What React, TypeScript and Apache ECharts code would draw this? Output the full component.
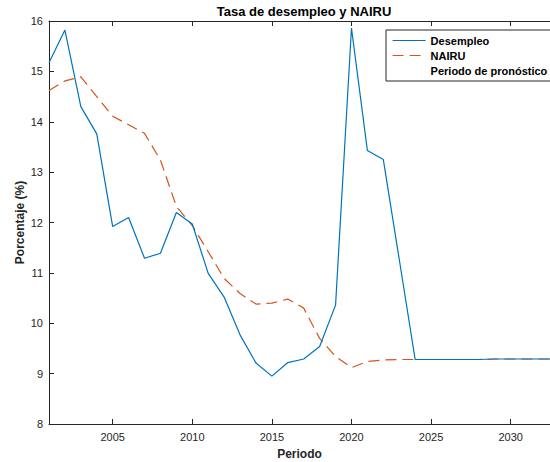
import React, { useEffect, useRef } from "react";
import * as echarts from "echarts";

const years: number[] = [
  2001, 2002, 2003, 2004, 2005, 2006, 2007, 2008, 2009, 2010, 2011, 2012, 2013, 2014, 2015, 2016, 2017,
  2018, 2019, 2020, 2021, 2022, 2023, 2024, 2025, 2026, 2027, 2028, 2029, 2030, 2031, 2032, 2033,
];
const desempleo: number[] = [
  15.17, 15.82, 14.3, 13.76, 11.92, 12.1, 11.29, 11.39, 12.2, 11.97, 10.99, 10.52, 9.77, 9.21, 8.95, 9.22, 9.29,
  9.54, 10.36, 15.86, 13.43, 13.25, 11.27, 9.28, 9.28, 9.28, 9.28, 9.28, 9.29, 9.29, 9.29, 9.29, 9.29,
];
const nairu: number[] = [
  14.62, 14.81, 14.89, 14.5, 14.11, 13.94, 13.77, 13.24, 12.32, 11.94, 11.42, 10.89, 10.59, 10.38, 10.4, 10.48, 10.3,
  9.7, 9.34, 9.12, 9.24, 9.27, 9.28, 9.28, 9.28, 9.28, 9.28, 9.28, 9.29, 9.29, 9.29, 9.29, 9.29,
];
const xTicks: number[] = [2005, 2010, 2015, 2020, 2025, 2030];
const seriesNames: string[] = ["Desempleo", "NAIRU", "Periodo de pronóstico"];

const FONT = "'Liberation Sans', Arial, Helvetica, sans-serif";
const AX = "#262626";

export default function App() {
  const ref = useRef<HTMLDivElement>(null);
  useEffect(() => {
    if (!ref.current) return;
    const chart = echarts.init(ref.current, null, { renderer: "svg" });
    const pair = (vals: number[]) => years.map((y, i) => [y, vals[i]]);
    const baseX = {
      type: "value" as const,
      min: 2001,
      max: 2032.47,
      splitLine: { show: false },
      axisLine: { show: true, onZero: false, lineStyle: { color: AX, width: 1 } },
      axisTick: { show: true, inside: true, length: 5, customValues: xTicks, lineStyle: { color: AX } },
    };
    chart.setOption({
      animation: false,
      textStyle: { fontFamily: FONT },
      title: {
        text: "Tasa de desempleo y NAIRU",
        left: 299,
        textAlign: "center",
        top: 0,
        textStyle: { fontFamily: FONT, fontSize: 13, fontWeight: "bold", color: "#000" },
      },
      legend: {
        orient: "vertical",
        left: 386,
        top: 30,
        padding: [5, 6, 5, 6],
        itemWidth: 33,
        itemHeight: 10,
        itemGap: 4,
        borderColor: "#262626",
        borderWidth: 1,
        backgroundColor: "#fff",
        itemStyle: { opacity: 0 },
        lineStyle: { width: 1.2 },
        data: seriesNames,
        textStyle: { fontFamily: FONT, fontSize: 11, fontWeight: "bold", color: "#000" },
      },
      grid: { left: 49, top: 21, right: 0, bottom: 38, containLabel: false, outerBoundsMode: "none" },
      xAxis: [
        {
          ...baseX,
          position: "bottom",
          name: "Periodo",
          nameLocation: "middle",
          nameGap: 24,
          nameMoveOverlap: false,
          nameTextStyle: { fontFamily: FONT, fontSize: 12, fontWeight: "bold", color: "#262626" },
          axisLabel: {
            customValues: xTicks,
            formatter: (v: number) => String(v),
            fontFamily: FONT,
            fontSize: 11,
            color: AX,
            margin: 7,
          },
        },
        {
          ...baseX,
          position: "top",
          axisLabel: { show: false },
        },
      ],
      yAxis: {
        type: "value",
        min: 8,
        max: 16,
        interval: 1,
        name: "Porcentaje (%)",
        nameLocation: "middle",
        nameGap: 23,
        nameMoveOverlap: false,
        nameTextStyle: { fontFamily: FONT, fontSize: 12, fontWeight: "bold", color: "#262626" },
        splitLine: { show: false },
        axisLine: { show: true, lineStyle: { color: AX, width: 1 } },
        axisTick: { show: true, inside: true, length: 5, lineStyle: { color: AX } },
        axisLabel: { fontFamily: FONT, fontSize: 11, color: AX, margin: 6 },
      },
      series: [
        {
          name: seriesNames[0],
          type: "line",
          data: pair(desempleo),
          showSymbol: false,
          symbol: "none",
          lineStyle: { color: "#0072BD", width: 1.2 },
          itemStyle: { color: "#0072BD" },
          z: 3,
        },
        {
          name: seriesNames[1],
          type: "line",
          data: pair(nairu),
          showSymbol: false,
          symbol: "none",
          lineStyle: { color: "#D95319", width: 1.2, type: [11, 6] },
          itemStyle: { color: "#D95319" },
          z: 2,
        },
        {
          name: seriesNames[2],
          type: "line",
          data: [],
          symbol: "none",
          lineStyle: { opacity: 0, color: "#fff" },
          itemStyle: { opacity: 0, color: "#fff" },
        },
      ],
    });
    return () => chart.dispose();
  }, []);
  return (
    <div
      ref={ref}
      style={{ position: "fixed", left: 0, top: 0, width: 550, height: 462, background: "#fff" }}
    />
  );
}
